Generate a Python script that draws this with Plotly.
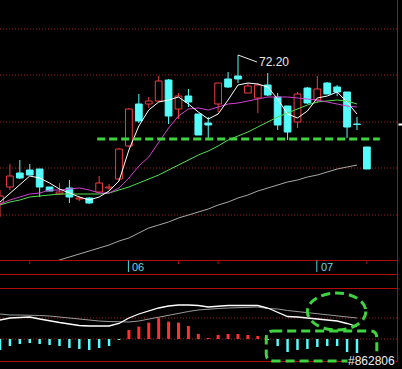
import plotly.graph_objects as go

# ---------------- data ----------------
idx = list(range(38))
opens  = [57.4, 59.0, 60.4, 60.7, 60.8, 59.0, 58.3, 58.9, 57.8, 57.9, 58.5, 58.9, 59.8, 63.1, 67.3, 67.3, 67.6, 69.7, 66.8, 68.1,
          66.3, 65.4, 67.3, 69.8, 70.1, 68.4, 67.9, 69.2, 68.0, 67.1, 65.5, 68.9, 67.7, 69.4, 69.0, 68.5, 65.3, 63.0]
highs  = [58.7, 61.3, 61.7, 61.3, 60.8, 59.0, 59.4, 59.7, 58.1, 58.0, 60.1, 59.3, 62.9, 66.9, 68.3, 68.0, 70.1, 69.8, 68.4, 68.8,
          66.3, 66.0, 69.4, 70.5, 72.2, 69.4, 69.4, 70.4, 68.4, 67.1, 68.5, 69.0, 70.1, 69.5, 69.2, 68.5, 66.0, 63.0]
lows   = [56.0, 58.7, 59.8, 60.2, 58.0, 58.6, 58.2, 57.4, 57.6, 57.3, 58.4, 58.7, 59.6, 63.0, 65.4, 66.9, 67.5, 65.3, 65.8, 67.0,
          64.2, 63.7, 66.5, 68.9, 69.4, 68.4, 66.4, 68.1, 64.7, 63.7, 64.9, 67.3, 67.4, 68.3, 68.1, 63.9, 64.7, 60.8]
closes = [58.1, 60.1, 59.9, 60.2, 59.0, 58.6, 58.5, 58.0, 57.9, 57.4, 59.4, 59.0, 62.8, 66.8, 65.6, 67.6, 69.6, 66.1, 68.1, 67.5,
          64.2, 65.2, 69.4, 69.0, 69.8, 69.1, 69.2, 68.2, 65.2, 64.5, 68.3, 67.4, 68.8, 68.3, 68.5, 65.0, 65.25, 60.8]

ma5  = [57.5, 58.4, 59.2, 60.1, 59.9, 59.4, 58.8, 58.4, 58.0, 57.7, 58.0, 58.6, 59.6, 62.7, 65.1, 66.7, 67.5, 67.7, 68.0, 67.3,
        66.5, 65.8, 66.3, 67.7, 69.2, 69.4, 69.3, 69.0, 67.8, 66.3, 65.9, 66.6, 67.9, 68.1, 68.5, 67.5, 66.3]
ma10 = [57.3, 57.7, 58.0, 58.3, 58.4, 58.7, 58.7, 58.8, 58.9, 58.7, 58.4, 58.4, 58.9, 59.9, 61.1, 62.0, 63.4, 64.9, 66.1, 66.8,
        66.9, 66.7, 67.0, 67.3, 67.4, 67.6, 67.8, 68.0, 68.0, 68.0, 67.9, 67.8, 67.7, 67.5, 67.3, 67.1, 67.0]
ma20 = [57.2, 57.5, 57.7, 58.0, 58.1, 58.2, 58.3, 58.3, 58.3, 58.3, 58.3, 58.4, 58.7, 59.0, 59.4, 59.8, 60.2, 60.7, 61.2, 61.7,
        62.2, 62.6, 63.1, 63.7, 64.1, 64.5, 65.0, 65.5, 66.0, 66.4, 66.8, 67.2, 67.5, 67.6, 67.7, 67.6, 67.3]
ma60 = [None, None, None, None, 51.1, 51.4, 51.7, 52.0, 52.3, 52.6, 52.9, 53.2, 53.6, 53.9, 54.4, 54.9, 55.2, 55.5, 55.9, 56.2,
        56.5, 56.8, 57.2, 57.5, 57.9, 58.2, 58.6, 58.9, 59.2, 59.5, 59.7, 60.0, 60.2, 60.5, 60.8, 61.0, 61.2]

macd_hist = [-0.55, -0.35, -0.25, -0.2, -0.25, -0.3, -0.35, -0.45, -0.5, -0.55, -0.45, -0.35, -0.03, 0.45, 0.62, 0.82, 1.04, 0.87,
             0.82, 0.65, 0.25, 0.04, 0.2, 0.25, 0.25, 0.2, 0.15, -0.03, -0.35, -0.65, -0.55, -0.5, -0.4, -0.35, -0.35, -0.65, -0.7]
dif = [0.95, 1.05, 1.075, 1.1, 1.0, 0.9, 0.825, 0.75, 0.675, 0.65, 0.65, 0.65, 0.775, 1.05, 1.25, 1.4, 1.55, 1.65, 1.7, 1.7,
       1.675, 1.6, 1.65, 1.675, 1.675, 1.675, 1.675, 1.55, 1.35, 1.125, 1.1, 1.05, 1.025, 0.975, 0.9, 0.775, 0.625]
dea = [1.25, 1.2, 1.2, 1.2, 1.175, 1.15, 1.1, 1.05, 0.975, 0.925, 0.9, 0.875, 0.85, 0.85, 0.9, 1.0, 1.1, 1.2, 1.3, 1.375,
       1.45, 1.5, 1.525, 1.55, 1.575, 1.6, 1.6, 1.525, 1.5, 1.425, 1.375, 1.325, 1.275, 1.225, 1.175, 1.125, 1.05]

month_labels = ["06", "07"]
month_start = [13, 32]
peak_label = "72.20"
support_level = 63.8
grid_levels = [74.8, 70.2, 65.5, 60.9, 56.2]
macd_grid = [1.05, 0.0]
code_text = "#862806"

# ---------------- styling ----------------
RED = "#f03c3c"
CYAN = "#54fcfc"
GREEN = "#3fd43f"
GRID = "#a41c1c"
AXRED = "#b00c0c"

fig = go.Figure()

up = [i for i in idx if closes[i] >= opens[i]]
dn = [i for i in idx if closes[i] < opens[i]]

def wicks(ids):
    xs, ys = [], []
    for i in ids:
        top = max(opens[i], closes[i]); bot = min(opens[i], closes[i])
        xs += [i, i, None, i, i, None]
        ys += [highs[i], top, None, bot, lows[i], None]
    return xs, ys

for ids, col in ((up, RED), (dn, CYAN)):
    wx, wy = wicks(ids)
    fig.add_trace(go.Scatter(x=wx, y=wy, mode="lines", line=dict(color=col, width=1),
                             hoverinfo="skip", showlegend=False))

fig.add_trace(go.Bar(x=up, base=[opens[i] for i in up], y=[closes[i] - opens[i] for i in up],
                     width=0.68, marker=dict(color="#000000", line=dict(color=RED, width=1)),
                     showlegend=False, hoverinfo="skip"))
fig.add_trace(go.Bar(x=dn, base=[closes[i] for i in dn], y=[opens[i] - closes[i] for i in dn],
                     width=0.68, marker=dict(color=CYAN, line=dict(color=CYAN, width=1)),
                     showlegend=False, hoverinfo="skip"))

for vals, col in ((ma60, "#a8a8a8"), (ma20, "#4ee04e"), (ma10, "#d040d0"), (ma5, "#ffffff")):
    fig.add_trace(go.Scatter(x=idx[:len(vals)], y=vals, mode="lines", line=dict(color=col, width=1),
                             hoverinfo="skip", showlegend=False, connectgaps=False))

# MACD pane
pos = [i for i, v in enumerate(macd_hist) if v >= 0]
neg = [i for i, v in enumerate(macd_hist) if v < 0]
fig.add_trace(go.Bar(x=pos, y=[macd_hist[i] for i in pos], width=0.3, marker=dict(color="#ff3030", line_width=0),
                     yaxis="y2", showlegend=False, hoverinfo="skip"))
fig.add_trace(go.Bar(x=neg, y=[macd_hist[i] for i in neg], width=0.25, marker=dict(color=CYAN, line_width=0),
                     yaxis="y2", showlegend=False, hoverinfo="skip"))
fig.add_trace(go.Scatter(x=idx[:len(dea)], y=dea, mode="lines", line=dict(color="#9a9a9a", width=1),
                         yaxis="y2", showlegend=False, hoverinfo="skip"))
fig.add_trace(go.Scatter(x=idx[:len(dif)], y=dif, mode="lines", line=dict(color="#ffffff", width=1.3),
                         yaxis="y2", showlegend=False, hoverinfo="skip"))

W, H = 402, 369
def py(p):  # pixel row -> paper y
    return 1 - p / H

shapes = []
for g in grid_levels:
    shapes.append(dict(type="line", xref="paper", yref="y", x0=0, x1=397 / W, y0=g, y1=g,
                       line=dict(color=GRID, width=1, dash="1px,2px"), layer="below"))
for g in macd_grid:
    shapes.append(dict(type="line", xref="paper", yref="y2", x0=0, x1=397 / W, y0=g, y1=g,
                       line=dict(color=GRID, width=1, dash="1px,2px"), layer="below"))
for p in (260.5, 274.5, 288.5, 361.5):
    shapes.append(dict(type="line", xref="paper", yref="paper", x0=0, x1=397.5 / W, y0=py(p), y1=py(p),
                       line=dict(color=AXRED, width=1)))
shapes.append(dict(type="line", xref="paper", yref="paper", x0=397.5 / W, x1=397.5 / W, y0=py(361.5), y1=1,
                   line=dict(color=AXRED, width=1)))
for t in (3, 18, 22, 37):
    shapes.append(dict(type="line", xref="x", yref="paper", x0=t, x1=t, y0=py(260.5), y1=py(264),
                       line=dict(color=AXRED, width=1)))
for m in month_start:
    shapes.append(dict(type="line", xref="x", yref="paper", x0=m - 0.05, x1=m - 0.05, y0=py(272), y1=py(260.5),
                       line=dict(color="#5fd0d8", width=1)))
# last price pointer on right axis
shapes.append(dict(type="line", xref="paper", yref="y", x0=398.5 / W, x1=1, y0=closes[36], y1=closes[36],
                   line=dict(color="#ffffff", width=2)))
# support dashed line
shapes.append(dict(type="line", xref="x", yref="y", x0=9.8, x1=38.3, y0=support_level, y1=support_level,
                   line=dict(color=GREEN, width=3, dash="8px,4px")))
# ellipse annotation on MACD lines
shapes.append(dict(type="circle", xref="x", yref="y2", x0=31.0, x1=36.9, y0=0.45, y1=2.3,
                   line=dict(color=GREEN, width=3, dash="9px,5px")))
# rounded rectangle around negative bars
x0, x1, y0, y1, rx, ry = 26.85, 38.0, -1.1, 0.4, 0.7, 0.35
path = (f"M {x0+rx},{y1} L {x1-rx},{y1} Q {x1},{y1} {x1},{y1-ry} L {x1},{y0+ry} Q {x1},{y0} {x1-rx},{y0} "
        f"L {x0+rx},{y0} Q {x0},{y0} {x0},{y0+ry} L {x0},{y1-ry} Q {x0},{y1} {x0+rx},{y1} Z")
shapes.append(dict(type="path", xref="x", yref="y2", path=path, line=dict(color=GREEN, width=3, dash="9px,5px")))

annotations = []
for lab, m in zip(month_labels, month_start):
    annotations.append(dict(x=m + 0.15, y=py(267), xref="x", yref="paper", text=lab, showarrow=False,
                            xanchor="left", yanchor="middle",
                            font=dict(family="Liberation Sans", size=11, color="#6ad8e0")))
pk = highs.index(max(highs))
annotations.append(dict(x=pk, y=highs[pk], xref="x", yref="y", text=peak_label, showarrow=True,
                        arrowhead=0, arrowwidth=1, arrowcolor="#e8e8e8", ax=19, ay=7, xanchor="left",
                        yanchor="middle", font=dict(family="Liberation Sans", size=12, color="#e8e8e8")))
annotations.append(dict(x=396 / W, y=py(361), xref="paper", yref="paper", text=code_text, showarrow=False,
                        xanchor="right", yanchor="middle", bgcolor="#000000", borderpad=0,
                        font=dict(family="Liberation Sans", size=12, color="#f0f0f0")))

fig.update_layout(
    width=W, height=H, margin=dict(l=0, r=0, t=0, b=0, pad=0),
    paper_bgcolor="#000000", plot_bgcolor="#000000",
    barmode="overlay", showlegend=False,
    xaxis=dict(range=[0, 40.54], visible=False, fixedrange=True),
    yaxis=dict(domain=[py(260.5), 1], range=[51.65, 77.7], visible=False),
    yaxis2=dict(domain=[0, py(274)], range=[-1.5, 3.25], visible=False, anchor="x"),
    shapes=shapes, annotations=annotations,
)

fig.write_html("out.html", config={"displayModeBar": False},
               post_script="document.body.style.margin='0';document.body.style.overflow='hidden';")
